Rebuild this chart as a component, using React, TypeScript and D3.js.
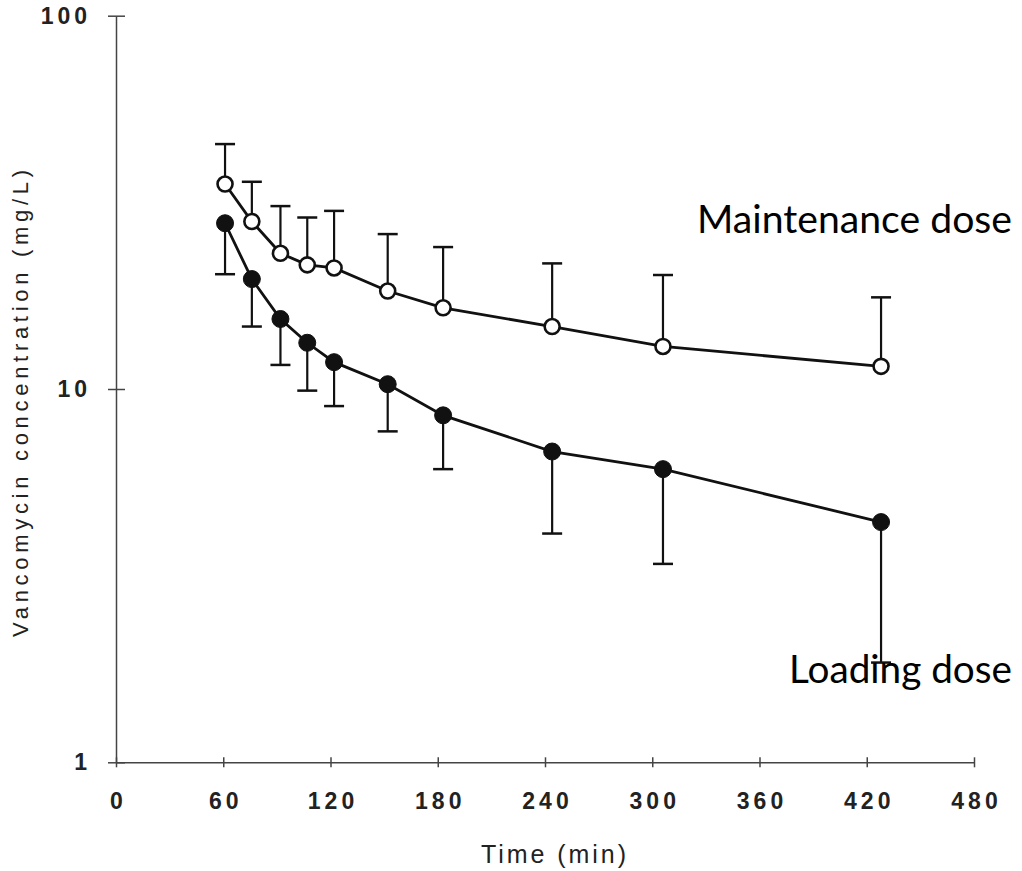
import React, { useRef, useEffect } from 'react';
import * as d3 from 'd3';

// sampling times (min)
const times = [61, 76, 92, 107, 122, 152, 183, 244, 306, 428];

// maintenance dose (open circles), mean and upper SD bar
const maintMean = [35.4, 28.1, 23.1, 21.5, 21.1, 18.3, 16.5, 14.7, 13.0, 11.5];
const maintUpper = [45.3, 35.9, 30.9, 28.8, 30.0, 26.0, 24.0, 21.7, 20.2, 17.6];

// loading dose (filled circles), mean and lower SD bar
const loadMean = [27.8, 19.7, 15.4, 13.3, 11.8, 10.3, 8.5, 6.8, 6.1, 4.4];
const loadLower = [20.3, 14.7, 11.6, 9.9, 9.0, 7.7, 6.1, 4.1, 3.4, 1.85];

const xTicks = [0, 60, 120, 180, 240, 300, 360, 420, 480];
const yTicks = [1, 10, 100];

interface Pt {
  t: number;
  v: number;
  bar: number;
}

const App = () => {
  const ref = useRef<SVGSVGElement | null>(null);
  const width = 1022;
  const height = 871;

  useEffect(() => {
    if (!ref.current) return;
    const svg = d3.select(ref.current);
    svg.selectAll('*').remove();

    const x = d3.scaleLinear().domain([0, 480]).range([116, 974]);
    const y = d3.scaleLog().domain([1, 100]).range([762.3, 15.7]);

    const axisColor = '#444';
    const tickFont = "'Liberation Sans', Arial, sans-serif";

    // x axis
    const xAxis = d3
      .axisBottom(x)
      .tickValues(xTicks)
      .tickSizeInner(5)
      .tickSizeOuter(0)
      .tickPadding(25)
      .tickFormat(d3.format('d'));
    const gx = svg.append('g').attr('transform', `translate(0,${y(1)})`).call(xAxis);
    gx.select('.domain').attr('stroke', axisColor).attr('stroke-width', 1.5);
    gx.selectAll('.tick line')
      .attr('y1', -5)
      .attr('stroke', axisColor)
      .attr('stroke-width', 1.5);
    gx.selectAll('.tick text')
      .attr('font-family', tickFont)
      .attr('font-size', 23)
      .attr('font-weight', 'bold')
      .attr('fill', '#222')
      .attr('letter-spacing', 4)
      .attr('dx', 2);

    // y axis
    const yAxis = d3
      .axisLeft(y)
      .tickValues(yTicks)
      .tickSizeInner(8)
      .tickSizeOuter(0)
      .tickPadding(17)
      .tickFormat(d3.format('d'));
    const gy = svg.append('g').attr('transform', `translate(${x(0)},0)`).call(yAxis);
    gy.select('.domain').attr('stroke', axisColor).attr('stroke-width', 1.5);
    gy.selectAll('.tick line')
      .attr('x2', 9)
      .attr('x1', -8)
      .attr('stroke', axisColor)
      .attr('stroke-width', 1.5);
    gy.selectAll('.tick text')
      .attr('font-family', tickFont)
      .attr('font-size', 23)
      .attr('font-weight', 'bold')
      .attr('fill', '#222')
      .attr('letter-spacing', 4);

    // axis titles
    svg
      .append('text')
      .attr('x', 481)
      .attr('y', 863)
      .attr('font-family', tickFont)
      .attr('font-size', 25)
      .attr('fill', '#222')
      .attr('textLength', 145)
      .attr('lengthAdjust', 'spacing')
      .text('Time (min)');

    svg
      .append('text')
      .attr('transform', `translate(28,${637}) rotate(-90)`)
      .attr('font-family', tickFont)
      .attr('font-size', 22)
      .attr('fill', '#222')
      .attr('textLength', 467)
      .attr('lengthAdjust', 'spacing')
      .text('Vancomycin concentration (mg/L)');

    const maint: Pt[] = times.map((t, i) => ({ t, v: maintMean[i], bar: maintUpper[i] }));
    const load: Pt[] = times.map((t, i) => ({ t, v: loadMean[i], bar: loadLower[i] }));

    const line = d3
      .line<Pt>()
      .x((d) => x(d.t))
      .y((d) => y(d.v));

    const capW = 10;

    const drawSeries = (data: Pt[], filled: boolean) => {
      const g = svg.append('g');
      // error bars
      g.selectAll('.err')
        .data(data)
        .join('line')
        .attr('x1', (d) => x(d.t))
        .attr('x2', (d) => x(d.t))
        .attr('y1', (d) => y(d.v))
        .attr('y2', (d) => y(d.bar))
        .attr('stroke', '#111')
        .attr('stroke-width', 2.2);
      g.selectAll('.cap')
        .data(data)
        .join('line')
        .attr('x1', (d) => x(d.t) - capW)
        .attr('x2', (d) => x(d.t) + capW)
        .attr('y1', (d) => y(d.bar))
        .attr('y2', (d) => y(d.bar))
        .attr('stroke', '#111')
        .attr('stroke-width', 2.5);
      g.append('path')
        .datum(data)
        .attr('fill', 'none')
        .attr('stroke', '#111')
        .attr('stroke-width', 2.8)
        .attr('d', line);
      g.selectAll('circle')
        .data(data)
        .join('circle')
        .attr('cx', (d) => x(d.t))
        .attr('cy', (d) => y(d.v))
        .attr('r', filled ? 8.5 : 7.5)
        .attr('fill', filled ? '#111' : '#fff')
        .attr('stroke', '#111')
        .attr('stroke-width', filled ? 1 : 2.6);
    };

    drawSeries(maint, false);
    drawSeries(load, true);

    const labelFont = "Lato, 'Open Sans', sans-serif";
    svg
      .append('text')
      .attr('x', 697)
      .attr('y', 233)
      .attr('font-family', labelFont)
      .attr('font-size', 38)
      .attr('fill', '#000')
      .attr('textLength', 315)
      .attr('lengthAdjust', 'spacingAndGlyphs')
      .text('Maintenance dose');
    svg
      .append('text')
      .attr('x', 789)
      .attr('y', 683)
      .attr('font-family', labelFont)
      .attr('font-size', 38)
      .attr('fill', '#000')
      .attr('textLength', 223)
      .attr('lengthAdjust', 'spacingAndGlyphs')
      .text('Loading dose');
  }, []);

  return (
    <div style={{ position: 'absolute', left: 0, top: 0 }}>
      <svg ref={ref} width={width} height={height} style={{ display: 'block', background: '#fff' }} />
    </div>
  );
};

export default App;
